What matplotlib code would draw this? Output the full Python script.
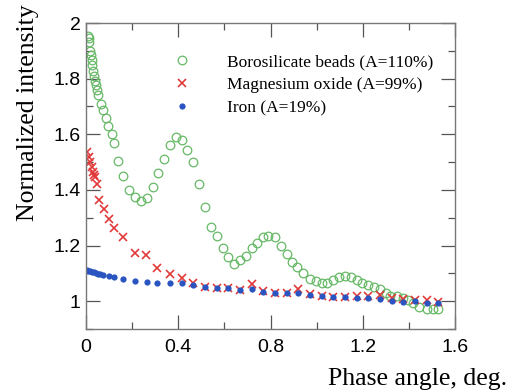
import matplotlib
matplotlib.use("Agg")
import matplotlib.pyplot as plt
from matplotlib.ticker import MultipleLocator

# Borosilicate beads (A=110%)
boro_x = [0.010, 0.012, 0.015, 0.017, 0.020, 0.025, 0.028, 0.032, 0.035, 0.040, 0.043, 0.048,
          0.052, 0.065, 0.074, 0.087, 0.096, 0.113, 0.121, 0.139, 0.160, 0.186, 0.212, 0.239,
          0.265, 0.290, 0.312, 0.338, 0.364, 0.390, 0.416, 0.438, 0.464, 0.490, 0.516, 0.542,
          0.568, 0.594, 0.616, 0.642, 0.668, 0.694, 0.720, 0.742, 0.768, 0.790, 0.820, 0.846,
          0.872, 0.893, 0.915, 0.941, 0.971, 0.997, 1.023, 1.045, 1.071, 1.097, 1.123, 1.149,
          1.175, 1.197, 1.223, 1.249, 1.275, 1.300, 1.318, 1.349, 1.375, 1.396, 1.418, 1.444,
          1.479, 1.505, 1.526]
boro_y = [1.955, 1.945, 1.930, 1.900, 1.885, 1.866, 1.850, 1.827, 1.810, 1.790, 1.776, 1.758,
          1.740, 1.710, 1.686, 1.657, 1.630, 1.600, 1.567, 1.505, 1.450, 1.400, 1.375, 1.360,
          1.372, 1.410, 1.460, 1.510, 1.560, 1.590, 1.578, 1.545, 1.500, 1.420, 1.340, 1.267,
          1.235, 1.190, 1.158, 1.134, 1.148, 1.162, 1.190, 1.210, 1.230, 1.235, 1.230, 1.200,
          1.170, 1.140, 1.123, 1.100, 1.080, 1.072, 1.065, 1.065, 1.076, 1.087, 1.090, 1.087,
          1.076, 1.065, 1.058, 1.050, 1.043, 1.029, 1.020, 1.018, 1.011, 1.004, 0.993, 0.978,
          0.971, 0.971, 0.971]

# Magnesium oxide (A=99%)
mgo_x = [0.004, 0.012, 0.017, 0.026, 0.030, 0.035, 0.040, 0.048, 0.057, 0.077, 0.099, 0.121,
         0.160, 0.212, 0.260, 0.310, 0.364, 0.416, 0.464, 0.516, 0.568, 0.616, 0.668, 0.720,
         0.768, 0.820, 0.872, 0.919, 0.971, 1.023, 1.071, 1.123, 1.175, 1.223, 1.275, 1.327,
         1.375, 1.427, 1.479, 1.526]
mgo_y = [1.535, 1.520, 1.500, 1.484, 1.465, 1.455, 1.445, 1.420, 1.363, 1.332, 1.295, 1.264,
         1.231, 1.175, 1.166, 1.119, 1.097, 1.085, 1.067, 1.052, 1.047, 1.047, 1.040, 1.063,
         1.035, 1.030, 1.030, 1.043, 1.025, 1.020, 1.016, 1.016, 1.020, 1.020, 1.022, 1.013,
         1.007, 1.004, 1.004, 0.996]

# Iron (A=19%)
iron_x = [0.003, 0.010, 0.017, 0.025, 0.033, 0.042, 0.050, 0.060, 0.075, 0.100, 0.121, 0.160,
          0.212, 0.265, 0.310, 0.364, 0.416, 0.464, 0.516, 0.568, 0.616, 0.668, 0.720, 0.768,
          0.820, 0.872, 0.919, 0.971, 1.023, 1.071, 1.123, 1.175, 1.223, 1.275, 1.327, 1.375,
          1.427, 1.479, 1.526]
iron_y = [1.112, 1.110, 1.108, 1.106, 1.104, 1.100, 1.098, 1.096, 1.094, 1.090, 1.087, 1.080,
          1.074, 1.070, 1.066, 1.065, 1.064, 1.057, 1.050, 1.047, 1.047, 1.040, 1.045, 1.034,
          1.030, 1.029, 1.028, 1.022, 1.018, 1.015, 1.014, 1.011, 1.011, 1.007, 1.000, 0.996,
          1.000, 0.993, 0.993]

labels = ["Borosilicate beads (A=110%)", "Magnesium oxide (A=99%)", "Iron (A=19%)"]
x_ticks = [0, 0.4, 0.8, 1.2, 1.6]
x_tick_labels = ["0", "0.4", "0.8", "1.2", "1.6"]
y_ticks = [1, 1.2, 1.4, 1.6, 1.8, 2]
y_tick_labels = ["1", "1.2", "1.4", "1.6", "1.8", "2"]

W, H = 511, 390
fig = plt.figure(figsize=(W / 100, H / 100), dpi=100)
ax = fig.add_axes([86 / W, 1 - 329 / H, (455 - 86) / W, (329 - 23) / H])

green = "#66b866"
red = "#e23a3a"
blue = "#2a55c0"

ax.plot(boro_x, boro_y, linestyle="none", marker="o", markersize=6.2,
        markerfacecolor="none", markeredgecolor=green, markeredgewidth=0.9, label=labels[0])
ax.plot(mgo_x, mgo_y, linestyle="none", marker="x", markersize=5.5,
        color=red, markeredgewidth=1.2, label=labels[1])
ax.plot(iron_x, iron_y, linestyle="none", marker="o", markersize=4.5,
        color=blue, markeredgewidth=0, label=labels[2])

ax.set_xlim(0, 1.6)
ax.set_ylim(0.9, 2.0)
ax.set_xticks(x_ticks)
ax.set_xticklabels(x_tick_labels, family="Liberation Sans", fontsize=14)
ax.set_yticks(y_ticks)
ax.set_yticklabels(y_tick_labels, family="Liberation Sans", fontsize=14)
ax.xaxis.set_minor_locator(MultipleLocator(0.2))
ax.yaxis.set_minor_locator(MultipleLocator(0.1))
ax.tick_params(which="both", direction="in", top=True, right=True, color="#555555", width=0.9)
ax.tick_params(which="major", length=10)
ax.tick_params(which="minor", length=5)
ax.tick_params(axis="x", which="major", pad=7)
ax.tick_params(axis="y", which="major", pad=4)
for s in ax.spines.values():
    s.set_color("#777777")
    s.set_linewidth(1.0)

leg = ax.legend(loc="upper left", bbox_to_anchor=(0.237, 0.898), frameon=False,
                prop={"family": "Liberation Serif", "size": 12.5}, handlelength=1.0,
                handletextpad=2.07, labelspacing=0.40, borderaxespad=0, borderpad=0)

fig.text(507 / W, 1 - 379 / H, "Phase angle, deg.", family="Liberation Serif",
         fontsize=18.5, ha="right", va="center")
fig.text(28 / W, 1 - 4 / H, "Normalized intensity", family="Liberation Serif",
         fontsize=18.5, ha="center", va="top", rotation=90)

fig.savefig("out.png", dpi=100)
